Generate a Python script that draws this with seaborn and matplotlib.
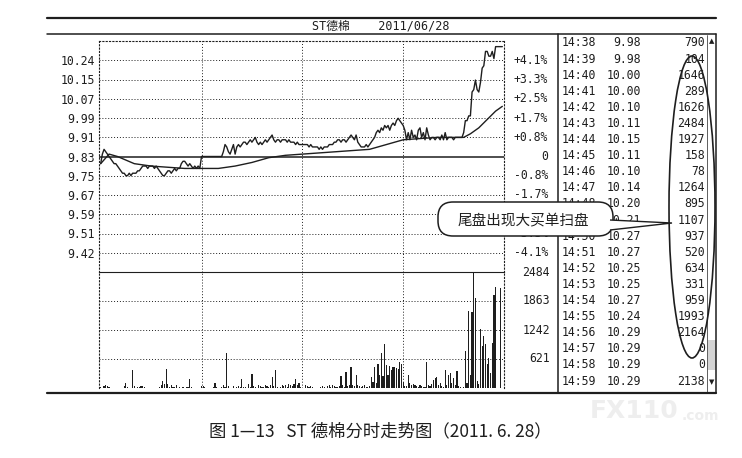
import numpy as np
import pandas as pd
import matplotlib
matplotlib.use('Agg')
import matplotlib.pyplot as plt
import seaborn as sns
from matplotlib.patches import FancyBboxPatch, Polygon, Ellipse, Rectangle
from matplotlib.lines import Line2D

# ---- data ----
prev_close = 9.83
max_move = 0.403          # 4.1 % of prev close, top label
price_labels = [10.24, 10.15, 10.07, 9.99, 9.91, 9.83, 9.75, 9.67, 9.59, 9.51, 9.42]
pct_labels = ['+4.1%', '+3.3%', '+2.5%', '+1.7%', '+0.8%', '0',
              '-0.8%', '-1.7%', '-2.5%', '-3.3%', '-4.1%']
vol_labels = [2484, 1863, 1242, 621]

# last minutes shown in the trade table
tbl_time = ['14:38', '14:39', '14:40', '14:41', '14:42', '14:43', '14:44', '14:45',
            '14:46', '14:47', '14:48', '14:49', '14:50', '14:51', '14:52', '14:53',
            '14:54', '14:55', '14:56', '14:57', '14:58', '14:59']
tbl_price = [9.98, 9.98, 10.00, 10.00, 10.10, 10.11, 10.15, 10.11, 10.10, 10.14, 10.20,
             10.21, 10.27, 10.27, 10.25, 10.25, 10.27, 10.24, 10.29, 10.29, 10.29, 10.29]
tbl_vol = [790, 104, 1646, 289, 1626, 2484, 1927, 158, 78, 1264, 895,
           1107, 937, 520, 634, 331, 959, 1993, 2164, 0, 0, 2138]

# minute prices 9:31 .. 14:37
price_early = [
    9.80, 9.84, 9.86, 9.85, 9.84, 9.83, 9.82, 9.81, 9.80, 9.80,
    9.79, 9.78, 9.77, 9.76, 9.76, 9.75, 9.75, 9.76, 9.75, 9.76,
    9.76, 9.76, 9.77, 9.77, 9.78, 9.79, 9.79, 9.79, 9.78, 9.79,
    9.79, 9.79, 9.78, 9.79, 9.78, 9.77, 9.76, 9.75, 9.75, 9.76,
    9.77, 9.77, 9.76, 9.77, 9.78, 9.77, 9.78, 9.78, 9.80, 9.81,
    9.81, 9.80, 9.79, 9.80, 9.79, 9.78, 9.79, 9.78, 9.79, 9.78,
    9.83, 9.83, 9.83, 9.83, 9.83, 9.83, 9.83, 9.83, 9.83, 9.83,
    9.83, 9.83, 9.83, 9.85, 9.88, 9.87, 9.85, 9.84, 9.86, 9.88,
    9.84, 9.87, 9.88, 9.87, 9.88, 9.89, 9.89, 9.88, 9.89, 9.90,
    9.89, 9.90, 9.91, 9.89, 9.88, 9.89, 9.88, 9.89, 9.90, 9.89,
    9.90, 9.91, 9.92, 9.90, 9.89, 9.90, 9.90, 9.89, 9.90, 9.90,
    9.90, 9.89, 9.90, 9.89, 9.89, 9.89, 9.88, 9.89, 9.88, 9.88,
    9.88, 9.88, 9.88, 9.88, 9.87, 9.88, 9.87, 9.87, 9.87, 9.87,
    9.86, 9.87, 9.86, 9.87, 9.87, 9.87, 9.88, 9.88, 9.88, 9.89,
    9.89, 9.90, 9.90, 9.89, 9.90, 9.90, 9.89, 9.90, 9.91, 9.92,
    9.91, 9.90, 9.92, 9.89, 9.88, 9.87, 9.87, 9.87, 9.88, 9.87,
    9.88, 9.89, 9.90, 9.91, 9.93, 9.94, 9.93, 9.95, 9.94, 9.96,
    9.95, 9.96, 9.94, 9.96, 9.97, 9.96, 9.98, 9.99, 9.98, 9.97,
    9.96, 9.94, 9.90, 9.93, 9.90, 9.94, 9.91, 9.92, 9.90, 9.94,
    9.95, 9.91, 9.93, 9.90, 9.95, 9.92, 9.90, 9.91, 9.91, 9.90,
    9.91, 9.91, 9.90, 9.92, 9.90, 9.93, 9.90, 9.91, 9.91, 9.91,
    9.90, 9.91, 9.91, 9.91, 9.91, 9.91, 9.93,
]
vol_early = [
    30, 0, 50, 70, 40, 20, 0, 10, 0, 0,
    0, 0, 0, 10, 40, 100, 20, 0, 10, 375,
    40, 10, 30, 20, 40, 50, 30, 10, 0, 0,
    0, 0, 0, 0, 10, 20, 60, 140, 90, 410,
    80, 20, 70, 30, 20, 60, 0, 20, 10, 30,
    10, 20, 30, 200, 20, 0, 0, 0, 0, 0,
    40, 50, 30, 0, 10, 0, 0, 20, 100, 20,
    0, 10, 30, 60, 20, 740, 40, 10, 0, 50,
    10, 20, 50, 20, 190, 30, 20, 10, 80, 20,
    300, 40, 20, 0, 60, 50, 30, 20, 60, 50,
    30, 60, 230, 40, 390, 20, 10, 30, 60, 40,
    70, 20, 90, 60, 40, 80, 190, 60, 100, 20,
    10, 0, 60, 50, 30, 40, 20, 0, 10, 0,
    0, 20, 40, 30, 10, 50, 60, 20, 60, 50,
    20, 30, 40, 250, 60, 30, 350, 40, 70, 460,
    60, 40, 280, 60, 40, 20, 40, 60, 30, 20,
    40, 230, 130, 460, 100, 515, 280, 760, 260, 950,
    495, 280, 470, 390, 440, 460, 420, 400, 565, 510,
    120, 50, 40, 280, 100, 60, 80, 70, 50, 30,
    60, 40, 20, 30, 550, 60, 40, 90, 175, 210,
    230, 60, 100, 40, 30, 375, 60, 280, 320, 100,
    210, 60, 355, 40, 20, 10, 30,
]
price_close = [10.29]   # 15:00
vol_close = [0]

# average price line, read every few minutes
avg_minute = [0, 5, 10, 20, 30, 40, 50, 60, 70, 80, 90, 100, 110, 120, 130, 140,
              150, 160, 170, 180, 190, 200, 210, 216, 220, 225, 230, 235, 239]
avg_price = [9.80, 9.84, 9.83, 9.80, 9.79, 9.785, 9.78, 9.78, 9.78, 9.79, 9.805,
             9.825, 9.835, 9.84, 9.845, 9.85, 9.855, 9.86, 9.88, 9.90, 9.905,
             9.91, 9.91, 9.91, 9.925, 9.95, 9.985, 10.02, 10.04]

price = price_early + tbl_price + price_close
volume = vol_early + tbl_vol + vol_close
minute = np.arange(len(price))
df = pd.DataFrame({'minute': minute, 'price': price, 'volume': volume})
df_avg = pd.DataFrame({'minute': avg_minute, 'avg': avg_price})

# ---- style ----
sns.set_theme(style='white')
plt.rcParams['font.family'] = ['DejaVu Sans Mono', 'Noto Sans CJK SC']
CJK = ['Noto Sans CJK SC', 'DejaVu Sans']
ink = '#1e1e1e'
dots = (0, (1, 2))

W, H = 742, 458
fig = plt.figure(figsize=(W / 100, H / 100), dpi=100)
fig.patch.set_facecolor('white')


def fx(x):
    return x / W


def fy(y):
    return 1 - y / H


ax_p = fig.add_axes([fx(99), fy(272), (504 - 99) / W, (272 - 41) / H])
ax_v = fig.add_axes([fx(99), fy(388), (504 - 99) / W, (388 - 272) / H], sharex=ax_p)

# price panel
step = max_move / 5
tick_pos = [prev_close + step * k for k in range(5, -6, -1)]
ax_p.set_ylim(prev_close - 6 * step, prev_close + 6 * step)
ax_p.set_xlim(-1, len(price))
for pos in tick_pos:
    if abs(pos - prev_close) > 1e-9:
        ax_p.axhline(pos, color=ink, lw=0.7, ls=dots)
ax_p.axhline(prev_close, color=ink, lw=1.1)
for xm in [60, 120, 180]:
    ax_p.axvline(xm, color=ink, lw=0.7, ls=dots)
    ax_v.axvline(xm, color=ink, lw=0.7, ls=dots)

sns.lineplot(data=df, x='minute', y='price', ax=ax_p, color=ink, lw=1.0)
sns.lineplot(data=df_avg, x='minute', y='avg', ax=ax_p, color=ink, lw=1.0)

ax_p.set_yticks(tick_pos, labels=[f'{v:.2f}' for v in price_labels])
ax_p.tick_params(axis='y', length=0, pad=3, labelsize=8.3, labelcolor=ink)
ax_p.set_xticks([])
ax_p.set_xlabel('')
ax_p.set_ylabel('')
for pos, lab in zip(tick_pos, pct_labels):
    ax_p.text(1 + 44 / 405, pos, lab, transform=ax_p.get_yaxis_transform(),
              ha='right', va='center', fontsize=8.3, color=ink)
for name, sp in ax_p.spines.items():
    sp.set_color(ink)
    sp.set_linewidth(0.8)
    sp.set_linestyle(dots)
ax_p.spines['bottom'].set_visible(False)

# volume panel
ax_v.bar(df['minute'], df['volume'], width=0.7, color=ink, linewidth=0)
ax_v.set_ylim(0, vol_labels[0])
for v in vol_labels[1:]:
    ax_v.axhline(v, color=ink, lw=0.7, ls=dots)
ax_v.set_yticks([])
ax_v.set_xticks([])
ax_v.set_xlabel('')
for v in vol_labels:
    ax_v.text(1 + 46 / 405, v, str(v), transform=ax_v.get_yaxis_transform(),
              ha='right', va='center', fontsize=8.3, color=ink)
for name, sp in ax_v.spines.items():
    sp.set_color(ink)
    sp.set_linewidth(0.8)
    sp.set_linestyle(dots)
ax_v.spines['top'].set_linestyle((0, (2, 1)))
ax_v.spines['bottom'].set_visible(False)

# frame lines
for (x0, y0, x1, y1, lw) in [(47, 18, 716, 18, 1.6), (47, 34, 716, 34, 1.1),
                             (47, 393, 716, 393, 1.6), (558, 34, 558, 393, 1.1),
                             (716, 34, 716, 393, 1.1), (707, 35, 707, 393, 0.5)]:
    fig.add_artist(Line2D([fx(x0), fx(x1)], [fy(y0), fy(y1)], color=ink, lw=lw))

fig.text(fx(381), fy(26), 'ST德棉    2011/06/28', ha='center', va='center',
         fontsize=8.5, color=ink)

# trade table
for i, (t, p, v) in enumerate(zip(tbl_time, tbl_price, tbl_vol)):
    yy = fy(43 + 16.1 * i)
    fig.text(fx(562), yy, t, ha='left', va='center', fontsize=8.3, color=ink)
    fig.text(fx(641), yy, f'{p:.2f}', ha='right', va='center', fontsize=8.3, color=ink)
    fig.text(fx(705), yy, str(v), ha='right', va='center', fontsize=8.3, color=ink)

# scrollbar
fig.add_artist(Rectangle((fx(708), fy(370)), 8 / W, 30 / H, transform=fig.transFigure,
                         facecolor='#d4d4d4', edgecolor='none'))
fig.text(fx(711.5), fy(41), '▲', ha='center', va='center', fontsize=5, color=ink,
         family=['DejaVu Sans'])
fig.text(fx(711.5), fy(382), '▼', ha='center', va='center', fontsize=5, color=ink,
         family=['DejaVu Sans'])

# callout, drawn over the table and the labels it hides
px = fig.dpi_scale_trans
box = FancyBboxPatch((438 / 100, (H - 236) / 100), 175 / 100, 34 / 100,
                     boxstyle='round,pad=0,rounding_size=0.15', transform=px,
                     facecolor='white', edgecolor=ink, lw=1.1, zorder=10)
fig.add_artist(box)
wedge = Polygon([(610 / 100, (H - 220) / 100), (672 / 100, (H - 223) / 100),
                 (610 / 100, (H - 230) / 100)], closed=False, transform=px,
                facecolor='white', edgecolor=ink, lw=1.0, zorder=11)
fig.add_artist(wedge)
fig.text(fx(523), fy(220), '尾盘出现大买单扫盘', ha='center', va='center',
         fontsize=10.5, color=ink, family=CJK, zorder=12)

# ellipse round the big volumes
fig.add_artist(Ellipse((fx(692), fy(207)), 46 / W, 302 / H, transform=fig.transFigure,
                       facecolor='none', edgecolor=ink, lw=1.2, zorder=12))

# watermark and caption
fig.text(fx(590), fy(411), 'FX110', ha='left', va='center', fontsize=18,
         fontweight='bold', color='#eeeeee', family=['DejaVu Sans'])
fig.text(fx(682), fy(416), '.com', ha='left', va='center', fontsize=10,
         fontweight='bold', color='#eeeeee', family=['DejaVu Sans'])
fig.text(fx(380), fy(431), '图 1—13   ST 德棉分时走势图（2011. 6. 28）', ha='center',
         va='center', fontsize=12.5, fontweight='medium', color=ink, family=CJK)

fig.savefig('out.png', dpi=100, facecolor='white')
